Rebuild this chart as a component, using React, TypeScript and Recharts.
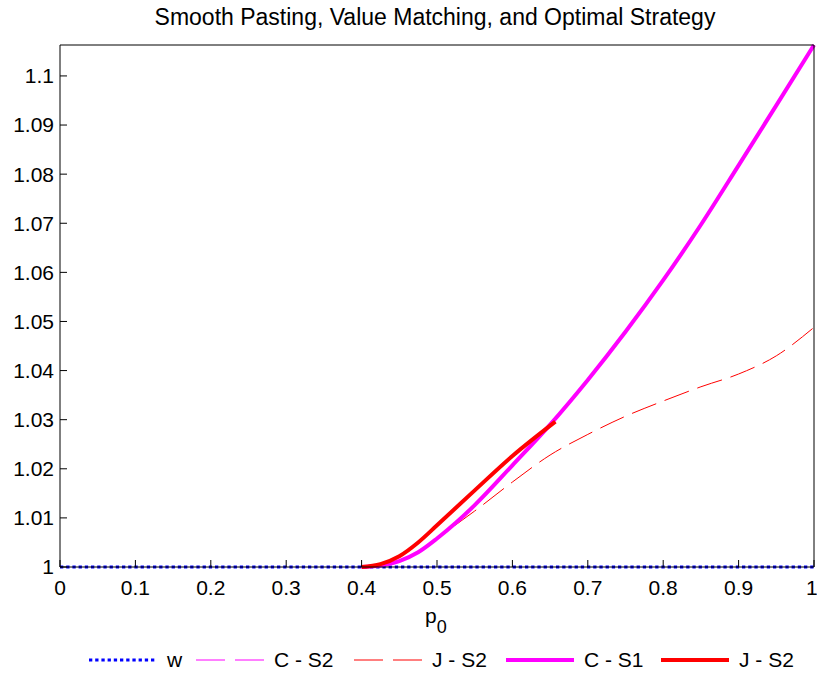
import React from 'react';
import { LineChart, Line, XAxis, YAxis, Legend } from 'recharts';

// p0 grid and curves
const pCurve = [0.4, 0.425, 0.45, 0.475, 0.5, 0.525, 0.55, 0.6, 0.65, 0.7, 0.75, 0.8, 0.85, 0.9, 0.95, 1.0];
const cS1 = [1.0, 1.0003, 1.0012, 1.003, 1.0058, 1.009, 1.0126, 1.0207, 1.029, 1.0381, 1.0479, 1.0584, 1.0697, 1.0818, 1.094, 1.1063];
const cS2 = [1.0, 1.0003, 1.0012, 1.003, 1.0058, 1.009, 1.0126, 1.0207, 1.029, 1.0381, 1.0479, 1.0584, 1.0697, 1.0818, 1.094, 1.1063];
const jS2Dashed = [1.0, 1.0003, 1.0012, 1.003, 1.0058, 1.0086, 1.0114, 1.0173, 1.0228, 1.027, 1.0307, 1.0338, 1.0367, 1.0393, 1.043, 1.0488];

const pJump = [0.4, 0.425, 0.45, 0.475, 0.5, 0.55, 0.6, 0.657];
const jS2Solid = [1.0, 1.0006, 1.0022, 1.005, 1.0085, 1.0156, 1.0226, 1.0296];

const pFlat = [0, 1];
const wLine = [1, 1];

const xTicks = [0, 0.1, 0.2, 0.3, 0.4, 0.5, 0.6, 0.7, 0.8, 0.9, 1];
const yTicks = [1, 1.01, 1.02, 1.03, 1.04, 1.05, 1.06, 1.07, 1.08, 1.09, 1.1];

const legendItems = [
  { name: 'w', color: '#0000ff', width: 3, dash: '3.3 2.9', x: 89 },
  { name: 'C - S2', color: '#ff00ff', width: 1, dash: '29 10', x: 196 },
  { name: 'J - S2', color: '#ff0000', width: 1, dash: '29 10', x: 354 },
  { name: 'C - S1', color: '#ff00ff', width: 4, dash: undefined, x: 506 },
  { name: 'J - S2', color: '#ff0000', width: 4, dash: undefined, x: 661 },
];

const FONT = '"Liberation Sans", Arial, sans-serif';

const toPoints = (xs: number[], ys: number[]) => xs.map((p, i) => ({ p, v: ys[i] }));

const renderLegend = () => (
  <svg width={817} height={32} style={{ display: 'block' }}>
    {legendItems.map((item) => (
      <g key={item.name + item.x}>
        <line
          x1={item.x}
          x2={item.x + 68}
          y1={15}
          y2={15}
          stroke={item.color}
          strokeWidth={item.width}
          strokeDasharray={item.dash}
        />
        <text x={item.x + 78} y={22} fontSize={21} fontFamily={FONT} fill="#000">
          {item.name}
        </text>
      </g>
    ))}
  </svg>
);

const renderXLabel = () => (
  <text x={425} y={623} fontSize={21} fontFamily={FONT} fill="#000">
    p
    <tspan fontSize={18} dy={10}>0</tspan>
  </text>
);

export default function App() {
  const axisFont = { fontSize: 21, fontFamily: FONT, fill: '#000' };
  return (
    <div style={{ position: 'absolute', left: 0, top: 0, width: 817, height: 677, background: '#fff', fontFamily: FONT }}>
      <div
        style={{
          position: 'absolute',
          left: 135,
          top: 6,
          width: 600,
          textAlign: 'center',
          fontSize: 23,
          lineHeight: '23px',
          color: '#000',
        }}
      >
        Smooth Pasting, Value Matching, and Optimal Strategy
      </div>
      <LineChart width={817} height={677} margin={{ top: 44, right: 2, bottom: 109, left: 0 }}>
        <XAxis
          dataKey="p"
          type="number"
          domain={[0, 1]}
          ticks={xTicks}
          height={1}
          tick={axisFont}
          tickSize={-7}
          tickMargin={20}
          axisLine={{ stroke: '#000' }}
          tickLine={{ stroke: '#000' }}
          label={renderXLabel}
        />
        <XAxis
          xAxisId="top"
          orientation="top"
          dataKey="p"
          type="number"
          domain={[0, 1]}
          ticks={xTicks}
          allowDataOverflow
          height={1}
          tick={false}
          tickSize={-7}
          axisLine={{ stroke: '#000' }}
          tickLine={{ stroke: '#000' }}
        />
        <YAxis
          type="number"
          domain={[1, 1.1063]}
          ticks={yTicks}
          width={60}
          tick={axisFont}
          tickSize={-7}
          tickMargin={13}
          axisLine={{ stroke: '#000' }}
          tickLine={{ stroke: '#000' }}
        />
        <YAxis
          yAxisId="right"
          orientation="right"
          type="number"
          domain={[1, 1.1063]}
          ticks={yTicks}
          allowDataOverflow
          width={1}
          tick={false}
          tickSize={-7}
          axisLine={{ stroke: '#000' }}
          tickLine={{ stroke: '#000' }}
        />
        <Legend
          layout="horizontal"
          verticalAlign="middle"
          align="center"
          content={renderLegend}
          wrapperStyle={{ position: 'absolute', top: 645, left: 0, width: 817, height: 32 }}
        />
        <Line
          data={toPoints(pFlat, wLine)}
          dataKey="v"
          name="w"
          type="linear"
          stroke="#0000ff"
          strokeWidth={3}
          strokeDasharray="3.3 2.9"
          dot={false}
          activeDot={false}
          isAnimationActive={false}
        />
        <Line
          data={toPoints(pCurve, cS2)}
          dataKey="v"
          name="C - S2"
          type="monotone"
          stroke="#ff00ff"
          strokeWidth={1}
          strokeDasharray="26 9"
          dot={false}
          activeDot={false}
          isAnimationActive={false}
        />
        <Line
          data={toPoints(pCurve, jS2Dashed)}
          dataKey="v"
          name="J - S2"
          type="monotone"
          stroke="#ff0000"
          strokeWidth={1}
          strokeDasharray="26 9"
          dot={false}
          activeDot={false}
          isAnimationActive={false}
        />
        <Line
          data={toPoints(pCurve, cS1)}
          dataKey="v"
          name="C - S1"
          type="monotone"
          stroke="#ff00ff"
          strokeWidth={4}
          dot={false}
          activeDot={false}
          isAnimationActive={false}
        />
        <Line
          data={toPoints(pJump, jS2Solid)}
          dataKey="v"
          name="J - S2 solid"
          type="monotone"
          stroke="#ff0000"
          strokeWidth={4}
          dot={false}
          activeDot={false}
          isAnimationActive={false}
        />
      </LineChart>
    </div>
  );
}
